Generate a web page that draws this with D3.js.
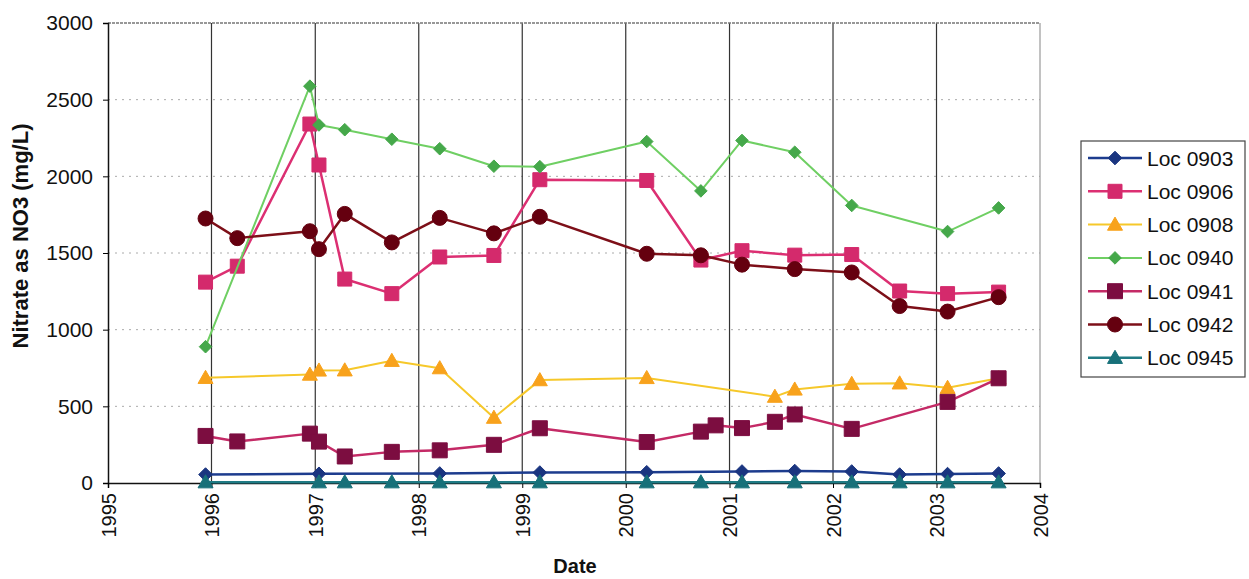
<!DOCTYPE html>
<html><head><meta charset="utf-8">
<script src="https://cdn.jsdelivr.net/npm/d3@7"></script>
<style>body{margin:0;background:#fff} text{font-family:Arial,"Liberation Sans",sans-serif;fill:#111}</style>
</head><body><svg id="c" width="1249" height="579"></svg>
<script>
// sampling dates (shared)
const dates = ["1995-12-11","1996-04-01","1996-12-13","1997-01-14","1997-04-15","1997-09-28",
  "1998-03-16","1998-09-23","1999-03-04","2000-03-15","2000-09-22","2000-11-13","2001-02-14",
  "2001-06-10","2001-08-19","2002-03-08","2002-08-24","2003-02-09","2003-08-08"];
const seriesNames = ["Loc 0903","Loc 0906","Loc 0908","Loc 0940","Loc 0941","Loc 0942","Loc 0945"];
// values aligned with dates (null = not sampled)
const loc0903 = [55,null,null,60,null,null,62,null,68,70,null,null,75,null,78,75,55,58,62];
const loc0906 = [1310,1414,2341,2074,1330,1235,1474,1484,1978,1973,1454,null,1515,null,1486,1490,1252,1235,1245];
const loc0908 = [686,null,707,734,735,797,749,426,671,685,null,null,null,563,610,647,650,621,683];
const loc0940 = [889,null,2588,2335,2304,2242,2180,2066,2063,2227,1905,null,2234,null,2157,1810,null,1640,1794];
const loc0941 = [307,271,322,270,173,203,213,249,357,267,335,376,358,399,447,353,null,529,683];
const loc0942 = [1725,1597,1642,1525,1755,1569,1729,1628,1736,1495,1485,null,1424,null,1395,1373,1154,1118,1212];
const loc0945 = [5,null,null,5,5,5,5,5,5,5,5,null,5,null,5,5,5,5,5];
const yTicks = [0,500,1000,1500,2000,2500,3000];
const xTickYears = [1995,1996,1997,1998,1999,2000,2001,2002,2003,2004];

const allValues = [loc0903,loc0906,loc0908,loc0940,loc0941,loc0942,loc0945];
const styles = [
  {line:"#1d3c8e", fill:"#1a3580", shape:"diamond", size:13, lw:2.5},
  {line:"#dc2f72", fill:"#d42a6c", shape:"square", size:14, lw:2.5},
  {line:"#f6c82a", fill:"#f8a21c", shape:"triangle", size:15, lw:2},
  {line:"#6fcf63", fill:"#45a84a", shape:"diamond", size:12, lw:2},
  {line:"#c42a66", fill:"#7c0d40", shape:"square", size:15, lw:2.5},
  {line:"#7d0f18", fill:"#65000f", shape:"circle", size:15, lw:2.5},
  {line:"#1f7b84", fill:"#177079", shape:"triangle", size:15, lw:2.5}
];

const parse = d3.timeParse("%Y-%m-%d");
const svg = d3.select("#c");
const L=108, R=1040, T=23, B=483;
const x = d3.scaleTime().domain([new Date(1995,0,1), new Date(2004,0,1)]).range([L,R]);
const y = d3.scaleLinear().domain([0,3000]).range([B,T]);

function markerPath(shape, s){
  const h=s/2;
  if(shape==="square") return `M${-h},${-h}H${h}V${h}H${-h}Z`;
  if(shape==="diamond") return `M0,${-h*1.05}L${h*1.05},0L0,${h*1.05}L${-h*1.05},0Z`;
  if(shape==="triangle") return `M0,${-h}L${h},${h*0.75}L${-h},${h*0.75}Z`;
  return d3.arc()({innerRadius:0,outerRadius:h,startAngle:0,endAngle:2*Math.PI});
}

// horizontal dashed gridlines
svg.append("g").selectAll("line").data(yTicks.filter(v=>v>0 && v<3000)).join("line")
  .attr("x1",L).attr("x2",R).attr("y1",d=>y(d)).attr("y2",d=>y(d))
  .attr("stroke","#aaa").attr("stroke-width",1).attr("stroke-dasharray","2,5");
// vertical gridlines
svg.append("g").selectAll("line").data(xTickYears.slice(1,-1)).join("line")
  .attr("x1",d=>x(new Date(d,0,1))).attr("x2",d=>x(new Date(d,0,1)))
  .attr("y1",T).attr("y2",B).attr("stroke","#333").attr("stroke-width",1.2);
// top & right border
svg.append("line").attr("x1",L).attr("x2",R).attr("y1",T).attr("y2",T)
  .attr("stroke","#777").attr("stroke-width",1.5).attr("stroke-dasharray","3,1");
svg.append("line").attr("x1",R).attr("x2",R).attr("y1",T).attr("y2",B)
  .attr("stroke","#999").attr("stroke-width",1.2);

// axes
const yAxis = d3.axisLeft(y).tickValues(yTicks).tickSize(5).tickPadding(10).tickFormat(d3.format("d"));
const gy = svg.append("g").attr("transform",`translate(${L},0)`).call(yAxis);
gy.select(".domain").attr("stroke","#111").attr("stroke-width",1.5);
gy.selectAll("text").attr("font-size",21).attr("fill","#111");

const xAxis = d3.axisBottom(x).tickValues(xTickYears.map(d=>new Date(d,0,1))).tickSize(5).tickFormat(d3.timeFormat("%Y"));
const gx = svg.append("g").attr("transform",`translate(0,${B})`).call(xAxis);
gx.select(".domain").attr("stroke","#111").attr("stroke-width",1.5);
gx.selectAll("text").attr("font-size",20).attr("fill","#111")
  .attr("transform","rotate(-90)").attr("text-anchor","end")
  .attr("x",-10).attr("y",0).attr("dy","0.35em");

// axis titles
svg.append("text").attr("transform","translate(28,236) rotate(-90)").attr("text-anchor","middle")
  .attr("font-size",22).attr("font-weight","bold").text("Nitrate as NO3 (mg/L)");
svg.append("text").attr("x",575).attr("y",573).attr("text-anchor","middle")
  .attr("font-size",20).attr("font-weight","bold").text("Date");

// series
const line = d3.line().defined(d=>d.v!==null).x(d=>x(d.t)).y(d=>y(d.v));
allValues.forEach((vals,i)=>{
  const st = styles[i];
  const pts = dates.map((d,j)=>({t:parse(d), v:vals[j]})).filter(d=>d.v!==null);
  const g = svg.append("g");
  g.append("path").datum(pts).attr("d",line).attr("fill","none")
    .attr("stroke",st.line).attr("stroke-width",st.lw).attr("stroke-linejoin","round");
  g.selectAll("path.m").data(pts).join("path").attr("class","m")
    .attr("d",markerPath(st.shape,st.size))
    .attr("transform",d=>`translate(${x(d.t)},${y(d.v)})`)
    .attr("fill",st.fill).attr("stroke",st.fill).attr("stroke-width",1);
});

// legend
const lg = svg.append("g");
lg.append("rect").attr("x",1081).attr("y",141).attr("width",164).attr("height",236)
  .attr("fill","#fff").attr("stroke","#444").attr("stroke-width",1.2);
seriesNames.forEach((n,i)=>{
  const st=styles[i], yy=158+i*33.3;
  lg.append("line").attr("x1",1088).attr("x2",1142).attr("y1",yy).attr("y2",yy)
    .attr("stroke",st.line).attr("stroke-width",st.lw);
  lg.append("path").attr("d",markerPath(st.shape,st.size)).attr("transform",`translate(1115,${yy})`)
    .attr("fill",st.fill).attr("stroke",st.fill);
  lg.append("text").attr("x",1147).attr("y",yy).attr("dy","0.36em").attr("font-size",21).text(n);
});
</script></body></html>
